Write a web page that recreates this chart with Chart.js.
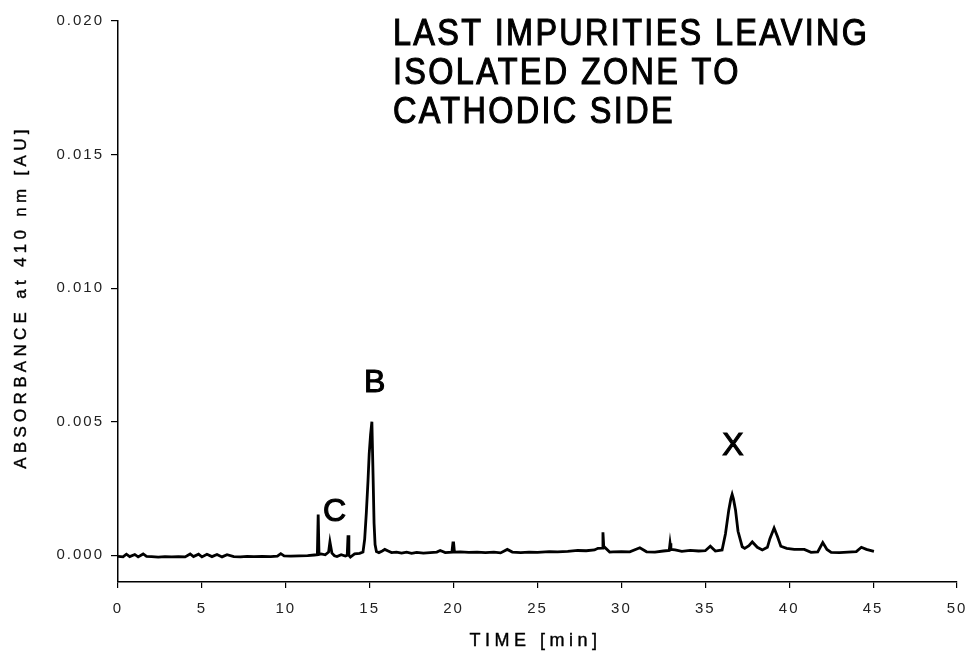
<!DOCTYPE html>
<html>
<head>
<meta charset="utf-8">
<script src="https://cdn.jsdelivr.net/npm/chart.js@4.4.1/dist/chart.umd.min.js"></script>
<style>
  html, body { margin: 0; padding: 0; background: #fff; }
  canvas { display: block; }
</style>
</head>
<body>
<canvas id="chart" width="968" height="652"></canvas>
<script>
// trace: time [min] and absorbance [AU]
const timeMin = [
  0, 0.3, 0.5, 0.7, 1.0, 1.2, 1.5, 1.7, 2.0, 2.4,
  2.8, 3.2, 3.6, 4.0, 4.3, 4.5, 4.8, 5.0, 5.3, 5.6,
  5.9, 6.2, 6.5, 6.9, 7.3, 7.7, 8.1, 8.6, 9.1, 9.5,
  9.7, 9.9, 10.3, 10.8, 11.3, 11.7, 11.88, 11.93, 11.98, 12.1,
  12.35, 12.55, 12.63, 12.75, 12.9, 13.05, 13.3, 13.55, 13.66, 13.71,
  13.76, 13.85, 14.1, 14.4, 14.6, 14.7, 14.8, 14.9, 14.97, 15.05,
  15.13, 15.2, 15.26, 15.32, 15.4, 15.55, 15.75, 15.9, 16.1, 16.3,
  16.6, 16.9, 17.2, 17.5, 17.8, 18.2, 18.6, 19.0, 19.2, 19.5,
  19.9, 19.96, 20.0, 20.05, 20.4, 20.9, 21.4, 21.9, 22.4, 22.8,
  23.2, 23.5, 24.0, 24.5, 25.0, 25.7, 26.2, 26.8, 27.4, 27.9,
  28.4, 28.6, 28.85, 28.9, 28.95, 29.0, 29.3, 29.5, 30.0, 30.5,
  31.1, 31.5, 32.0, 32.5, 32.85, 32.9, 32.95, 33.2, 33.6, 34.1,
  34.6, 35.0, 35.3, 35.6, 36.0, 36.2, 36.4, 36.52, 36.6, 36.68,
  36.8, 36.95, 37.2, 37.35, 37.6, 37.8, 38.1, 38.4, 38.7, 38.85,
  39.1, 39.3, 39.5, 39.85, 40.3, 40.9, 41.3, 41.7, 42.0, 42.25,
  42.5, 43.0, 43.5, 44.0, 44.3, 44.6, 45.05
];
const absorbance = [
  -0.00004, -0.00006, 0.00004, -0.00005, 0.00003, -0.00006, 0.00005, -0.00004, -0.00005, -0.00007,
  -0.00005, -0.00006, -0.00005, -0.00006, 0.00005, -0.00005, 0.00004, -0.00006, 0.00004, -0.00005,
  0.00003, -0.00006, 0.00002, -0.00005, -0.00006, -0.00004, -0.00005, -0.00004, -0.00005, -0.00003,
  0.00006, -0.00002, -0.00003, -0.00002, -0.00001, 0.00001, 0.00002, 0.00153, 0.00003, 0.00005,
  0.00002, 0.00012, 0.0005, 0.00008, -0.00002, -0.00005, 0.00002, -0.00003, 0.0, 0.00075,
  0.0, -0.00007, 0.00005, 0.00007, 0.00012, 0.0006, 0.0016, 0.0028, 0.0038, 0.0045,
  0.005, 0.003, 0.0012, 0.0004, 0.00014, 0.0001, 0.00016, 0.00022, 0.00016, 0.0001,
  0.00012, 0.00008, 0.00012, 0.00007, 0.00011, 0.00008, 0.0001, 0.00012, 0.00018, 0.0001,
  0.00012, 0.00046, 0.00046, 0.00012, 0.00013, 0.00011, 0.00012, 0.0001, 0.00012, 0.00009,
  0.00022, 0.00012, 0.0001, 0.00012, 0.00011, 0.00014, 0.00013, 0.00015, 0.00018, 0.00017,
  0.0002, 0.00026, 0.00027, 0.00086, 0.0003, 0.0003, 0.00012, 0.00013, 0.00014, 0.00013,
  0.00028, 0.00013, 0.00012, 0.00016, 0.00018, 0.00045, 0.00022, 0.0002, 0.00015, 0.00018,
  0.00016, 0.00017, 0.00034, 0.00016, 0.0002, 0.0008, 0.0017, 0.0021, 0.00228, 0.0021,
  0.0017, 0.0009, 0.00032, 0.00026, 0.00036, 0.0005, 0.0003, 0.0002, 0.0003, 0.00062,
  0.00102, 0.0007, 0.00034, 0.00026, 0.00022, 0.00022, 0.00011, 0.00013, 0.00048, 0.00022,
  0.00011, 0.0001, 0.00012, 0.00014, 0.0003, 0.00022, 0.00015
];

const xTicks = [0, 5, 10, 15, 20, 25, 30, 35, 40, 45, 50];
const yTicks = [0, 0.005, 0.010, 0.015, 0.020];

// peak letters, placed in data units
const peakNames = ["C", "B", "X"];
const peakTime = [12.9, 15.3, 36.65];
const peakLevel = [0.0013, 0.00612, 0.00377];

const titleLines = ["LAST IMPURITIES LEAVING", "ISOLATED ZONE TO", "CATHODIC SIDE"];
const xTitle = "TIME [min]";
const yTitle = "ABSORBANCE at 410 nm [AU]";

const FONT = '"Liberation Sans", Arial, sans-serif';

function heavyText(ctx, s, x, y, w) {
  ctx.fillText(s, x, y);
  ctx.lineWidth = w;
  ctx.strokeText(s, x, y);
}

const textPlugin = {
  id: "texts",
  beforeDraw(chart) {
    chart.ctx.letterSpacing = "2px";
  },
  afterDraw(chart) {
    const ctx = chart.ctx;
    const xs = chart.scales.x, ys = chart.scales.y;
    ctx.save();
    ctx.fillStyle = "#000";
    ctx.strokeStyle = "#000";
    ctx.textBaseline = "alphabetic";

    // big title, top right (slightly condensed, widely spaced)
    ctx.font = "36px " + FONT;
    ctx.letterSpacing = "2.6px";
    ctx.textAlign = "left";
    [45, 84, 123].forEach((y, i) => {
      ctx.save();
      ctx.translate(393, y);
      ctx.scale(0.9, 1);
      heavyText(ctx, titleLines[i], 0, 0, 1.1);
      ctx.restore();
    });

    // peak letters
    ctx.font = "32px " + FONT;
    ctx.letterSpacing = "0px";
    ctx.textAlign = "center";
    peakNames.forEach((n, i) => {
      heavyText(ctx, n, xs.getPixelForValue(peakTime[i]), ys.getPixelForValue(peakLevel[i]), 1.1);
    });

    // axis titles
    ctx.font = "18px " + FONT;
    ctx.letterSpacing = "4.5px";
    heavyText(ctx, xTitle, (chart.chartArea.left + chart.chartArea.right) / 2 - 2, 646, 0.4);

    ctx.font = "17px " + FONT;
    ctx.letterSpacing = "4.3px";
    ctx.translate(26, 297);
    ctx.rotate(-Math.PI / 2);
    heavyText(ctx, yTitle, 0, 0, 0.4);
    ctx.restore();
  }
};

new Chart(document.getElementById("chart"), {
  type: "line",
  data: {
    datasets: [{
      data: timeMin.map((t, i) => ({ x: t, y: absorbance[i] })),
      borderColor: "#000",
      borderWidth: 2.8,
      pointRadius: 0,
      tension: 0,
      fill: false
    }]
  },
  options: {
    responsive: false,
    animation: false,
    devicePixelRatio: 1,
    layout: { padding: { top: 21, right: 0, left: 0, bottom: 0 } },
    plugins: { legend: { display: false }, tooltip: { enabled: false } },
    scales: {
      x: {
        type: "linear",
        min: 0,
        max: 50,
        afterBuildTicks: s => { s.ticks = xTicks.map(v => ({ value: v })); },
        afterFit: s => { s.height = 70; s.paddingLeft = 0; s.paddingRight = 11; },
        ticks: { color: "#222", padding: 12, font: { family: FONT, size: 15 }, maxRotation: 0, callback: v => String(v) },
        grid: { drawOnChartArea: false, drawTicks: true, tickLength: 6, color: "#000", lineWidth: 1.2 },
        border: { display: true, color: "#000", width: 1.5 }
      },
      y: {
        type: "linear",
        min: -0.001,
        max: 0.020,
        afterBuildTicks: s => { s.ticks = yTicks.map(v => ({ value: v })); },
        afterFit: s => { s.width = 118; },
        ticks: { color: "#222", padding: 7, font: { family: FONT, size: 15 }, callback: v => v.toFixed(3) },
        grid: { drawOnChartArea: false, drawTicks: true, tickLength: 7, color: "#000", lineWidth: 1.2 },
        border: { display: true, color: "#000", width: 1.5 }
      }
    }
  },
  plugins: [textPlugin]
});
</script>
</body>
</html>
